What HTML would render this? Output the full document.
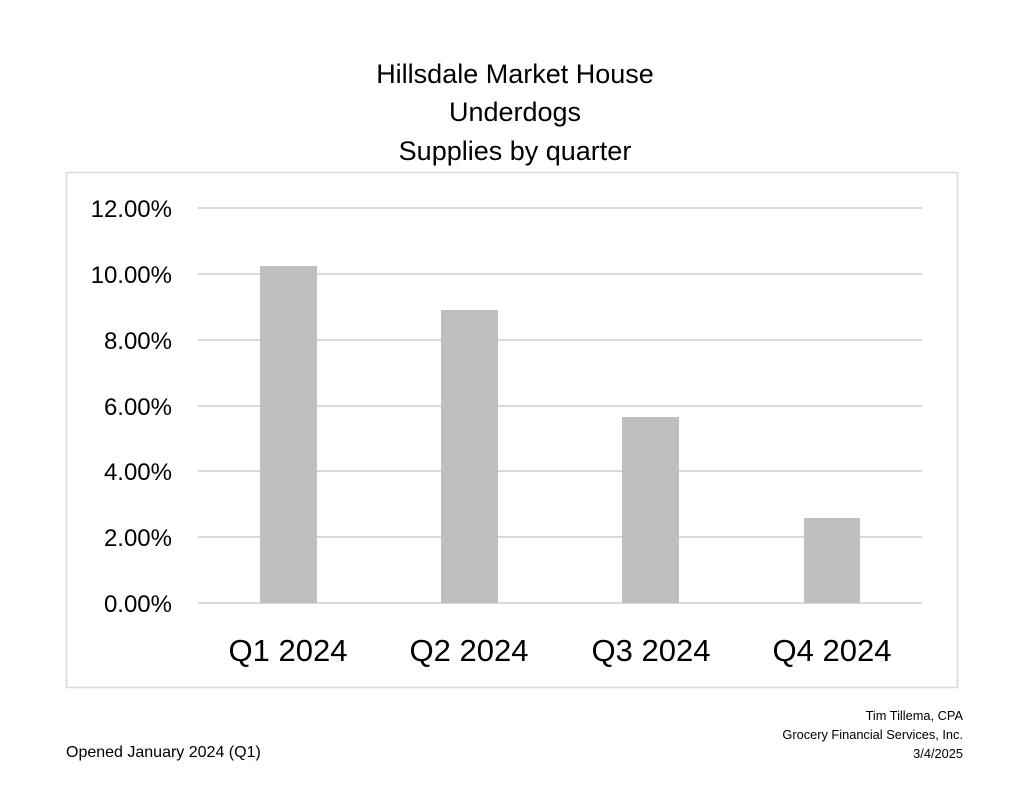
<!DOCTYPE html>
<html><head><meta charset="utf-8"><style>
body{margin:0;background:#fff;}
svg text{font-family:"Liberation Sans",sans-serif;fill:#000;}
</style></head><body>
<svg width="1024" height="791" xmlns="http://www.w3.org/2000/svg">
<rect width="1024" height="791" fill="#fff"/>
<text x="515" y="83" font-size="27" text-anchor="middle">Hillsdale Market House</text>
<text x="515" y="121" font-size="27" text-anchor="middle">Underdogs</text>
<text x="515" y="160" font-size="27" text-anchor="middle">Supplies by quarter</text>
<rect x="66.5" y="172.5" width="891" height="515" fill="#fff" stroke="#d9d9d9" stroke-width="1.5"/>
<g stroke="#d9d9d9" stroke-width="2">
<line x1="198" y1="208" x2="922" y2="208"/>
<line x1="198" y1="274" x2="922" y2="274"/>
<line x1="198" y1="340" x2="922" y2="340"/>
<line x1="198" y1="406" x2="922" y2="406"/>
<line x1="198" y1="471" x2="922" y2="471"/>
<line x1="198" y1="537" x2="922" y2="537"/>
<line x1="198" y1="603" x2="922" y2="603"/>
</g>
<g fill="#bfbfbf">
<rect x="260" y="266" width="57" height="337"/>
<rect x="441" y="310" width="57" height="293"/>
<rect x="622" y="417" width="57" height="186"/>
<rect x="804" y="518" width="56" height="85"/>
</g>
<g font-size="24" text-anchor="end">
<text x="172" y="217">12.00%</text>
<text x="172" y="283">10.00%</text>
<text x="172" y="349">8.00%</text>
<text x="172" y="415">6.00%</text>
<text x="172" y="480">4.00%</text>
<text x="172" y="546">2.00%</text>
<text x="172" y="612">0.00%</text>
</g>
<g font-size="31" text-anchor="middle">
<text x="288" y="661">Q1 2024</text>
<text x="469" y="661">Q2 2024</text>
<text x="651" y="661">Q3 2024</text>
<text x="832" y="661">Q4 2024</text>
</g>
<text x="66" y="757" font-size="16">Opened January 2024 (Q1)</text>
<g font-size="12.8" text-anchor="end">
<text x="963" y="720">Tim Tillema, CPA</text>
<text x="963" y="739">Grocery Financial Services, Inc.</text>
<text x="963" y="758">3/4/2025</text>
</g>
</svg>
</body></html>
